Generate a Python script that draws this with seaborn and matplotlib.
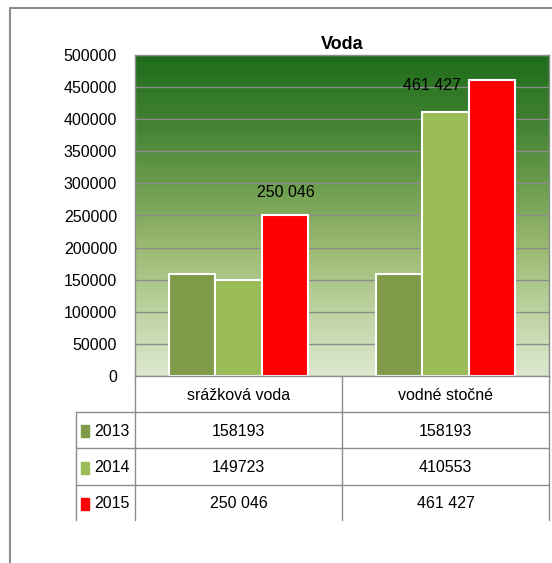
import numpy as np
import pandas as pd
import matplotlib
matplotlib.use("Agg")
from matplotlib import pyplot as plt
from matplotlib.colors import LinearSegmentedColormap
from matplotlib.lines import Line2D
import seaborn as sns

categories = ["srážková voda", "vodné stočné"]
years = ["2013", "2014", "2015"]
v2013 = [158193, 158193]
v2014 = [149723, 410553]
v2015 = [250046, 461427]
yticks = [0, 50000, 100000, 150000, 200000, 250000, 300000, 350000, 400000, 450000, 500000]
colors = ["#7f9a48", "#9bbb59", "#ff0000"]

df = pd.DataFrame({
    "kategoria": categories * 3,
    "rok": [y for y in years for _ in categories],
    "hodnota": v2013 + v2014 + v2015,
})

sns.set_style("white")
plt.rcParams["font.family"] = ["Liberation Sans", "DejaVu Sans"]
plt.rcParams["text.color"] = "black"
plt.rcParams["ytick.color"] = "black"
FS = 11.5

W, H = 552, 563
fig = plt.figure(figsize=(W / 100, H / 100), dpi=100)
L, R, T, B = 135, 549, 55, 376
ax = fig.add_axes([L / W, 1 - B / H, (R - L) / W, (B - T) / H])

# gradient background of the plot area
cmap = LinearSegmentedColormap.from_list(
    "zelena", ["#dde8cf", "#bdd3a1", "#9bb971", "#6a9c4c", "#3f8030", "#1d6c1a"])
grad = np.linspace(0, 1, 256).reshape(-1, 1)
ax.imshow(grad, cmap=cmap, aspect="auto", origin="lower",
          extent=[-0.5, 1.5, 0, 500000], zorder=0)

sns.barplot(data=df, x="kategoria", y="hodnota", hue="rok", palette=colors,
            saturation=1, width=0.67, edgecolor="white", linewidth=1.5,
            legend=False, ax=ax, zorder=2)

ax.set_xlim(-0.5, 1.5)
ax.set_ylim(0, 500000)
ax.set_yticks(yticks)
ax.set_yticklabels([str(t) for t in yticks], fontsize=FS)
ax.set_xticks([])
ax.set_xlabel("")
ax.set_ylabel("")
ax.tick_params(axis="y", length=0, pad=13)
ax.grid(axis="y", color="#8c8c8c", linewidth=1, zorder=1)
ax.set_axisbelow(True)
for s in ax.spines.values():
    s.set_color("#8c8c8c")
    s.set_linewidth(1)

ax.set_title("Voda", fontsize=13, fontweight="bold", pad=4)

# data labels for 2015
ax.text(0.227, 285500, "250 046", ha="center", va="center", fontsize=FS)
ax.text(1 - 0.066, 453000, "461 427", ha="center", va="center", fontsize=FS)

# overlay in pixel coordinates for the frame and the data table
ov = fig.add_axes([0, 0, 1, 1], zorder=-1)
ov.set_xlim(0, W)
ov.set_ylim(H, 0)
ov.axis("off")
gray = "#8c8c8c"

# outer chart frame
ov.add_line(Line2D([10, W], [8, 8], color=gray, lw=1.5))
ov.add_line(Line2D([10, 10], [8, H], color=gray, lw=1.5))

tbl = fig.add_axes([0, 0, 1, 1])
tbl.set_xlim(0, W)
tbl.set_ylim(H, 0)
tbl.axis("off")

col_w = (R - L) / len(categories)
cols = [L + i * col_w for i in range(len(categories) + 1)]
rows = [B, 412, 448, 485, 520]
legx = 76

for x in cols:
    tbl.add_line(Line2D([x, x], [B, rows[-1]], color=gray, lw=1))
tbl.add_line(Line2D([legx, legx], [rows[1], rows[-1]], color=gray, lw=1))
for y in rows[1:-1]:
    tbl.add_line(Line2D([legx, R], [y, y], color=gray, lw=1))

for i, c in enumerate(categories):
    tbl.text(cols[i] + col_w / 2, (rows[0] + rows[1]) / 2 + 1, c,
             ha="center", va="center", fontsize=FS)

series = [v2013, v2014, v2015]
for j, (yr, vals, col) in enumerate(zip(years, series, colors)):
    yc = (rows[j + 1] + rows[j + 2]) / 2 + 1
    tbl.add_patch(plt.Rectangle((81, yc - 6), 8, 12, color=col))
    tbl.text(94, yc, yr, ha="left", va="center", fontsize=FS)
    for i, v in enumerate(vals):
        s = f"{v:,}".replace(",", " ") if yr == "2015" else str(v)
        tbl.text(cols[i] + col_w / 2, yc, s, ha="center", va="center", fontsize=FS)

fig.savefig("out.png", dpi=100)
